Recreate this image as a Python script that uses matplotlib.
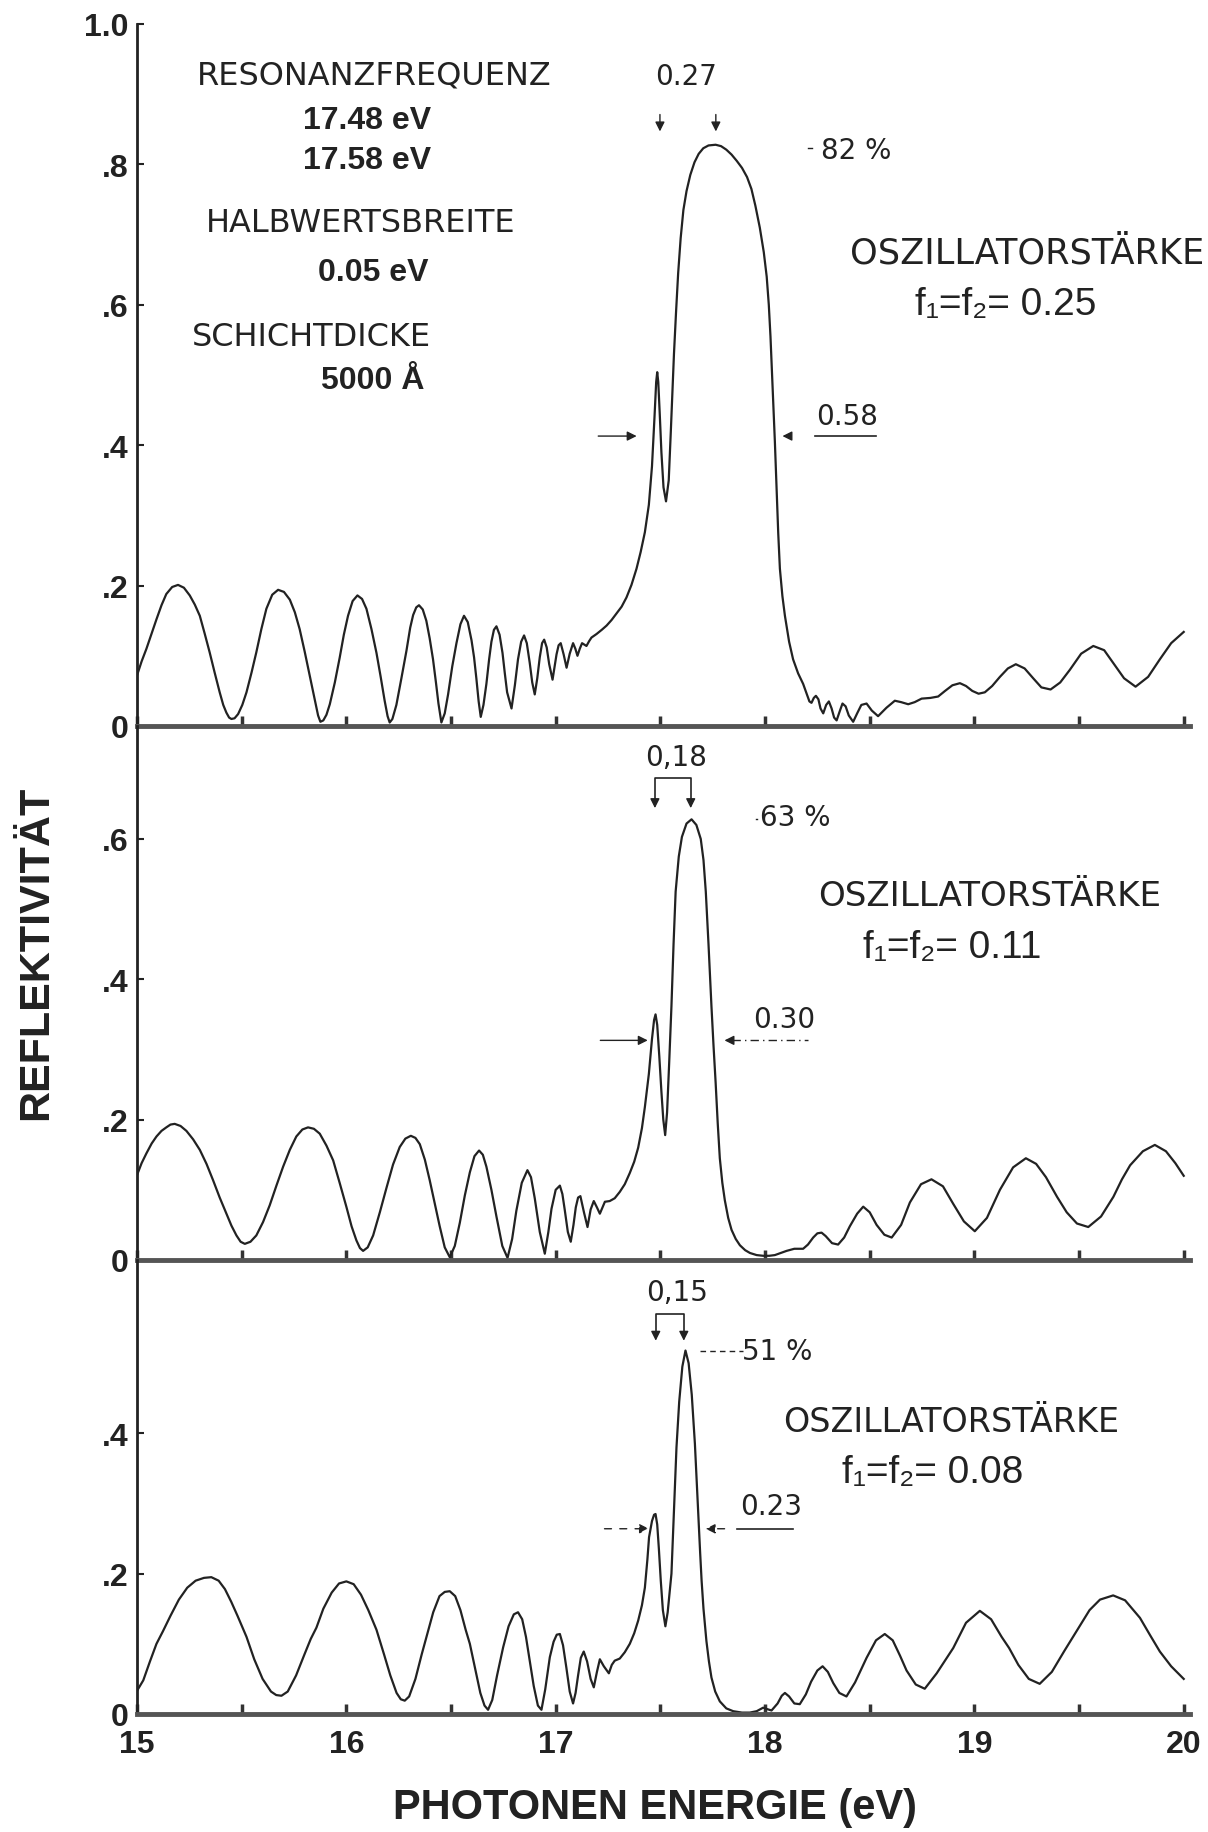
import matplotlib
matplotlib.use('Agg')
import matplotlib.pyplot as plt

# reflectivity curves (photon energy in eV, reflectivity)
topE = [15.000, 15.022, 15.045, 15.070, 15.093, 15.117, 15.140, 15.168, 15.196, 15.224,
        15.252, 15.276, 15.300, 15.323, 15.347, 15.371, 15.395, 15.412, 15.427, 15.440,
        15.451, 15.466, 15.483, 15.503, 15.523, 15.547, 15.570, 15.594, 15.618, 15.646,
        15.674, 15.702, 15.730, 15.754, 15.777, 15.801, 15.825, 15.850, 15.865, 15.876,
        15.890, 15.905, 15.921, 15.945, 15.968, 15.988, 16.008, 16.030, 16.053, 16.075,
        16.096, 16.120, 16.144, 16.164, 16.183, 16.197, 16.207, 16.220, 16.239, 16.263,
        16.287, 16.305, 16.319, 16.334, 16.347, 16.365, 16.382, 16.398, 16.414, 16.428,
        16.440, 16.454, 16.470, 16.486, 16.506, 16.526, 16.545, 16.562, 16.580, 16.598,
        16.610, 16.621, 16.632, 16.642, 16.655, 16.669, 16.682, 16.693, 16.705, 16.717,
        16.732, 16.746, 16.757, 16.768, 16.789, 16.805, 16.820, 16.835, 16.849, 16.862,
        16.876, 16.888, 16.900, 16.912, 16.924, 16.935, 16.945, 16.957, 16.969, 16.985,
        16.995, 17.004, 17.014, 17.024, 17.038, 17.052, 17.067, 17.083, 17.094, 17.104,
        17.115, 17.126, 17.137, 17.147, 17.160, 17.171, 17.195, 17.220, 17.243, 17.267,
        17.290, 17.315, 17.338, 17.362, 17.386, 17.406, 17.426, 17.445, 17.460, 17.472,
        17.480, 17.485, 17.490, 17.497, 17.505, 17.515, 17.527, 17.540, 17.550, 17.558,
        17.565, 17.575, 17.585, 17.597, 17.610, 17.625, 17.643, 17.663, 17.683, 17.705,
        17.730, 17.764, 17.790, 17.815, 17.840, 17.865, 17.890, 17.914, 17.935, 17.954,
        17.975, 17.994, 18.008, 18.018, 18.026, 18.033, 18.040, 18.047, 18.055, 18.063,
        18.071, 18.083, 18.095, 18.115, 18.134, 18.158, 18.182, 18.200, 18.212, 18.222,
        18.233, 18.243, 18.255, 18.265, 18.278, 18.292, 18.305, 18.318, 18.330, 18.342,
        18.358, 18.370, 18.385, 18.400, 18.421, 18.440, 18.460, 18.485, 18.510, 18.540,
        18.580, 18.620, 18.650, 18.684, 18.715, 18.748, 18.790, 18.827, 18.860, 18.895,
        18.931, 18.960, 18.990, 19.020, 19.050, 19.085, 19.122, 19.160, 19.198, 19.240,
        19.281, 19.320, 19.364, 19.410, 19.456, 19.510, 19.568, 19.620, 19.663, 19.715,
        19.770, 19.830, 19.886, 19.940, 20.000]
topR = [0.072, 0.092, 0.110, 0.132, 0.152, 0.172, 0.188, 0.198, 0.201, 0.197,
        0.186, 0.173, 0.157, 0.132, 0.105, 0.076, 0.048, 0.030, 0.019, 0.012,
        0.010, 0.011, 0.017, 0.030, 0.048, 0.076, 0.105, 0.138, 0.167, 0.187,
        0.194, 0.191, 0.180, 0.162, 0.138, 0.106, 0.072, 0.036, 0.015, 0.006,
        0.008, 0.016, 0.031, 0.062, 0.097, 0.130, 0.157, 0.178, 0.186, 0.181,
        0.167, 0.138, 0.104, 0.070, 0.036, 0.014, 0.005, 0.010, 0.030, 0.068,
        0.107, 0.140, 0.158, 0.169, 0.172, 0.166, 0.150, 0.125, 0.095, 0.062,
        0.032, 0.005, 0.018, 0.045, 0.085, 0.118, 0.145, 0.157, 0.148, 0.122,
        0.098, 0.068, 0.035, 0.013, 0.030, 0.060, 0.095, 0.120, 0.137, 0.142,
        0.130, 0.104, 0.075, 0.048, 0.025, 0.058, 0.095, 0.120, 0.129, 0.118,
        0.090, 0.062, 0.045, 0.068, 0.098, 0.118, 0.123, 0.112, 0.088, 0.066,
        0.085, 0.102, 0.115, 0.118, 0.102, 0.083, 0.103, 0.118, 0.110, 0.100,
        0.110, 0.118, 0.116, 0.114, 0.121, 0.126, 0.131, 0.137, 0.143, 0.151,
        0.160, 0.170, 0.183, 0.201, 0.224, 0.248, 0.276, 0.315, 0.370, 0.440,
        0.490, 0.504, 0.490, 0.445, 0.390, 0.340, 0.320, 0.350, 0.420, 0.480,
        0.530, 0.590, 0.645, 0.695, 0.735, 0.762, 0.785, 0.803, 0.815, 0.823,
        0.827, 0.828, 0.826, 0.821, 0.814, 0.805, 0.795, 0.782, 0.765, 0.741,
        0.710, 0.675, 0.640, 0.600, 0.555, 0.505, 0.455, 0.405, 0.340, 0.275,
        0.224, 0.185, 0.157, 0.120, 0.095, 0.075, 0.060, 0.045, 0.035, 0.033,
        0.040, 0.043, 0.038, 0.025, 0.018, 0.030, 0.035, 0.025, 0.012, 0.008,
        0.022, 0.032, 0.028, 0.015, 0.006, 0.018, 0.030, 0.032, 0.022, 0.014,
        0.026, 0.036, 0.034, 0.031, 0.034, 0.039, 0.040, 0.042, 0.050, 0.058,
        0.061, 0.057, 0.050, 0.046, 0.048, 0.057, 0.070, 0.082, 0.088, 0.082,
        0.068, 0.055, 0.052, 0.062, 0.080, 0.103, 0.114, 0.108, 0.090, 0.068,
        0.056, 0.070, 0.095, 0.118, 0.134]

midE = [15.000, 15.022, 15.045, 15.070, 15.093, 15.117, 15.140, 15.160, 15.180, 15.208,
        15.236, 15.268, 15.300, 15.332, 15.363, 15.395, 15.427, 15.451, 15.475, 15.495,
        15.515, 15.542, 15.570, 15.602, 15.634, 15.666, 15.698, 15.730, 15.761, 15.790,
        15.817, 15.845, 15.873, 15.905, 15.937, 15.968, 16.000, 16.025, 16.048, 16.065,
        16.080, 16.102, 16.128, 16.160, 16.191, 16.223, 16.255, 16.282, 16.308, 16.330,
        16.351, 16.375, 16.398, 16.422, 16.446, 16.470, 16.494, 16.518, 16.542, 16.566,
        16.590, 16.612, 16.634, 16.652, 16.669, 16.693, 16.717, 16.745, 16.770, 16.792,
        16.812, 16.838, 16.865, 16.882, 16.900, 16.924, 16.948, 16.965, 16.980, 17.000,
        17.020, 17.032, 17.043, 17.058, 17.072, 17.085, 17.096, 17.107, 17.118, 17.135,
        17.152, 17.167, 17.182, 17.197, 17.211, 17.235, 17.258, 17.282, 17.306, 17.330,
        17.354, 17.375, 17.394, 17.412, 17.426, 17.445, 17.460, 17.470, 17.477, 17.485,
        17.495, 17.505, 17.514, 17.523, 17.532, 17.542, 17.553, 17.563, 17.573, 17.588,
        17.603, 17.625, 17.649, 17.672, 17.693, 17.706, 17.717, 17.730, 17.744, 17.754,
        17.764, 17.774, 17.784, 17.796, 17.808, 17.824, 17.840, 17.860, 17.880, 17.905,
        17.928, 17.960, 17.991, 18.020, 18.047, 18.075, 18.103, 18.140, 18.182, 18.205,
        18.230, 18.250, 18.270, 18.290, 18.320, 18.349, 18.378, 18.405, 18.440, 18.469,
        18.500, 18.533, 18.570, 18.605, 18.650, 18.692, 18.745, 18.795, 18.850, 18.899,
        18.950, 19.002, 19.060, 19.122, 19.185, 19.246, 19.295, 19.342, 19.395, 19.441,
        19.490, 19.544, 19.605, 19.664, 19.705, 19.744, 19.805, 19.862, 19.915, 19.960,
        20.000]
midR = [0.121, 0.138, 0.152, 0.166, 0.176, 0.184, 0.189, 0.193, 0.194, 0.191,
        0.184, 0.172, 0.157, 0.137, 0.114, 0.089, 0.066, 0.049, 0.035, 0.026,
        0.023, 0.026, 0.035, 0.054, 0.078, 0.106, 0.133, 0.157, 0.176, 0.186,
        0.189, 0.187, 0.180, 0.163, 0.142, 0.110, 0.076, 0.048, 0.028, 0.017,
        0.013, 0.018, 0.035, 0.068, 0.102, 0.136, 0.161, 0.173, 0.177, 0.174,
        0.165, 0.143, 0.114, 0.081, 0.048, 0.018, 0.004, 0.020, 0.053, 0.092,
        0.125, 0.148, 0.156, 0.150, 0.133, 0.100, 0.062, 0.020, 0.003, 0.030,
        0.070, 0.110, 0.128, 0.118, 0.088, 0.040, 0.009, 0.040, 0.073, 0.100,
        0.106, 0.094, 0.072, 0.040, 0.026, 0.050, 0.075, 0.089, 0.091, 0.068,
        0.047, 0.072, 0.084, 0.075, 0.066, 0.083, 0.084, 0.088, 0.097, 0.108,
        0.124, 0.140, 0.160, 0.188, 0.218, 0.265, 0.315, 0.342, 0.350, 0.335,
        0.290, 0.240, 0.200, 0.178, 0.210, 0.280, 0.362, 0.450, 0.525, 0.575,
        0.603, 0.622, 0.628, 0.620, 0.600, 0.570, 0.525, 0.450, 0.362, 0.305,
        0.253, 0.195, 0.145, 0.110, 0.085, 0.060, 0.043, 0.030, 0.021, 0.014,
        0.010, 0.007, 0.006, 0.006, 0.007, 0.010, 0.013, 0.016, 0.016, 0.022,
        0.032, 0.038, 0.039, 0.034, 0.024, 0.022, 0.032, 0.048, 0.066, 0.076,
        0.068, 0.050, 0.036, 0.032, 0.050, 0.082, 0.108, 0.115, 0.105, 0.080,
        0.055, 0.041, 0.060, 0.100, 0.132, 0.145, 0.137, 0.118, 0.090, 0.068,
        0.052, 0.047, 0.062, 0.090, 0.115, 0.135, 0.155, 0.164, 0.155, 0.138,
        0.120]

botE = [15.000, 15.030, 15.062, 15.093, 15.124, 15.160, 15.200, 15.240, 15.280, 15.320,
        15.355, 15.390, 15.420, 15.450, 15.480, 15.523, 15.560, 15.600, 15.640, 15.665,
        15.690, 15.720, 15.760, 15.800, 15.830, 15.857, 15.890, 15.930, 15.965, 16.000,
        16.035, 16.070, 16.105, 16.144, 16.180, 16.210, 16.240, 16.260, 16.279, 16.300,
        16.330, 16.360, 16.383, 16.415, 16.445, 16.470, 16.494, 16.520, 16.545, 16.570,
        16.590, 16.615, 16.640, 16.660, 16.677, 16.697, 16.720, 16.749, 16.775, 16.800,
        16.820, 16.840, 16.858, 16.876, 16.895, 16.915, 16.932, 16.950, 16.972, 16.990,
        17.005, 17.020, 17.035, 17.051, 17.067, 17.083, 17.095, 17.107, 17.120, 17.134,
        17.150, 17.167, 17.182, 17.197, 17.211, 17.230, 17.254, 17.268, 17.282, 17.306,
        17.330, 17.354, 17.375, 17.394, 17.412, 17.426, 17.438, 17.446, 17.460, 17.470,
        17.477, 17.485, 17.493, 17.502, 17.512, 17.524, 17.535, 17.545, 17.553, 17.565,
        17.577, 17.590, 17.605, 17.620, 17.635, 17.650, 17.665, 17.680, 17.690, 17.697,
        17.706, 17.720, 17.732, 17.744, 17.762, 17.784, 17.815, 17.848, 17.890, 17.927,
        17.960, 17.991, 18.010, 18.031, 18.060, 18.080, 18.095, 18.115, 18.140, 18.166,
        18.195, 18.220, 18.250, 18.275, 18.300, 18.326, 18.355, 18.389, 18.430, 18.485,
        18.530, 18.572, 18.610, 18.645, 18.676, 18.720, 18.763, 18.820, 18.899, 18.960,
        19.026, 19.080, 19.130, 19.166, 19.210, 19.260, 19.312, 19.370, 19.430, 19.488,
        19.550, 19.600, 19.663, 19.720, 19.791, 19.840, 19.886, 19.940, 20.000]
botR = [0.033, 0.048, 0.075, 0.100, 0.118, 0.140, 0.163, 0.180, 0.190, 0.194,
        0.195, 0.190, 0.178, 0.160, 0.140, 0.110, 0.078, 0.050, 0.032, 0.027,
        0.026, 0.032, 0.055, 0.085, 0.107, 0.123, 0.150, 0.173, 0.186, 0.189,
        0.185, 0.170, 0.148, 0.120, 0.085, 0.055, 0.030, 0.021, 0.019, 0.025,
        0.050, 0.085, 0.110, 0.145, 0.168, 0.174, 0.175, 0.168, 0.148, 0.120,
        0.100, 0.065, 0.030, 0.012, 0.006, 0.020, 0.055, 0.095, 0.125, 0.142,
        0.145, 0.135, 0.110, 0.076, 0.040, 0.012, 0.006, 0.035, 0.081, 0.103,
        0.113, 0.114, 0.098, 0.066, 0.032, 0.015, 0.030, 0.055, 0.080, 0.089,
        0.075, 0.050, 0.038, 0.060, 0.078, 0.068, 0.058, 0.070, 0.076, 0.079,
        0.088, 0.100, 0.115, 0.133, 0.155, 0.180, 0.220, 0.252, 0.275, 0.284,
        0.285, 0.270, 0.235, 0.190, 0.148, 0.125, 0.145, 0.175, 0.200, 0.290,
        0.380, 0.445, 0.495, 0.518, 0.500, 0.455, 0.385, 0.290, 0.230, 0.190,
        0.150, 0.104, 0.075, 0.052, 0.032, 0.018, 0.008, 0.004, 0.002, 0.002,
        0.004, 0.009, 0.007, 0.005, 0.015, 0.026, 0.030, 0.025, 0.015, 0.014,
        0.028, 0.046, 0.062, 0.068, 0.060, 0.044, 0.030, 0.025, 0.045, 0.080,
        0.105, 0.114, 0.105, 0.083, 0.062, 0.042, 0.036, 0.058, 0.094, 0.130,
        0.147, 0.135, 0.110, 0.094, 0.070, 0.050, 0.043, 0.060, 0.090, 0.118,
        0.148, 0.163, 0.169, 0.162, 0.137, 0.112, 0.089, 0.068, 0.050]

yticks_top = [0, 0.2, 0.4, 0.6, 0.8, 1.0]
ylabels_top = ['0', '.2', '.4', '.6', '.8', '1.0']
yticks_mid = [0, 0.2, 0.4, 0.6]
ylabels_mid = ['0', '.2', '.4', '.6']
yticks_bot = [0, 0.2, 0.4]
ylabels_bot = ['0', '.2', '.4']
xticks = [15, 15.5, 16, 16.5, 17, 17.5, 18, 18.5, 19, 19.5, 20]
xlabels = ['15', '', '16', '', '17', '', '18', '', '19', '', '20']

W, H = 1208, 1833
narrow = ['Liberation Sans', 'DejaVu Sans']
plain = ['DejaVu Sans']
ink = '#222222'


def fx(px):
    return px / W


def fy(py):
    return 1 - py / H


fig = plt.figure(figsize=(W / 100, H / 100), dpi=100)

x0, x1 = 137, 1190
# (top pixel, bottom pixel, ymax) for each panel
panels = [(25, 727, 1.0), (727, 1261, 0.761), (1261, 1715, 0.647)]
axes = []
for top, bot, ymax in panels:
    ax = fig.add_axes([fx(x0), fy(bot), (x1 - x0) / W, (bot - top) / H])
    ax.set_xlim(15, 20.03)
    ax.set_ylim(0, ymax)
    ax.patch.set_alpha(0)
    for s in ['top', 'right']:
        ax.spines[s].set_visible(False)
    ax.spines['left'].set_linewidth(2)
    ax.spines['left'].set_color(ink)
    ax.spines['bottom'].set_linewidth(3.5)
    ax.spines['bottom'].set_color('#555555')
    ax.set_xticks(xticks)
    ax.tick_params(axis='x', direction='in', length=7, width=2.5, color='#333333',
                   labelbottom=False)
    ax.tick_params(axis='y', direction='in', length=5, width=1.5, color=ink, pad=6)
    axes.append(ax)

axT, axM, axB = axes
axT.set_yticks(yticks_top, ylabels_top)
axM.set_yticks(yticks_mid, ylabels_mid)
axB.set_yticks(yticks_bot, ylabels_bot)
axB.set_xticks(xticks, xlabels)
axB.tick_params(axis='x', labelbottom=True, pad=11)
for ax in axes:
    for lab in ax.get_yticklabels() + ax.get_xticklabels():
        lab.set_family(narrow)
        lab.set_fontweight('bold')
        lab.set_fontsize(23)
        lab.set_color(ink)

axT.plot(topE, topR, color=ink, lw=1.6)
axM.plot(midE, midR, color=ink, lw=1.6)
axB.plot(botE, botR, color=ink, lw=1.6)

# axis titles
fig.text(fx(36), fy(953), 'REFLEKTIVITÄT', rotation=90, ha='center', va='center',
         family=narrow, fontweight='bold', fontsize=31, color=ink)
fig.text(fx(655), fy(1808), 'PHOTONEN ENERGIE (eV)', ha='center', va='center',
         family=narrow, fontweight='bold', fontsize=30, color=ink)

# parameter block, top panel
words = [('RESONANZFREQUENZ', 374, 76), ('HALBWERTSBREITE', 361, 223),
         ('SCHICHTDICKE', 311, 338)]
for s, x, y in words:
    fig.text(fx(x), fy(y), s, ha='center', va='center', family=plain, fontsize=23,
             color=ink)
values = [('17.48 eV', 367, 121), ('17.58 eV', 367, 161), ('0.05 eV', 373, 273),
          ('5000 Å', 373, 381)]
for s, x, y in values:
    fig.text(fx(x), fy(y), s, ha='center', va='center', family=narrow,
             fontweight='bold', fontsize=23, color=ink)

# oscillator strength labels
osz = [(1027, 253, 25.3, 'f₁=f₂= 0.25', 1006, 305),
       (990, 897, 24.6, 'f₁=f₂= 0.11', 952, 948),
       (951, 1423, 24, 'f₁=f₂= 0.08', 933, 1473)]
for x, y, fs, f, xf, yf in osz:
    fig.text(fx(x), fy(y), 'OSZILLATORSTÄRKE', ha='center', va='center', family=plain,
             fontsize=fs, color=ink)
    fig.text(fx(xf), fy(yf), f, ha='center', va='center', family=narrow,
             fontsize=28, color=ink)

small = [('0.27', 686, 77), ('82 %', 856, 151), ('0.58', 847, 417),
         ('0,18', 676, 758), ('63 %', 795, 818), ('0.30', 784, 1020),
         ('0,15', 677, 1293), ('51 %', 777, 1352), ('0.23', 771, 1507)]
for s, x, y in small:
    fig.text(fx(x), fy(y), s, ha='center', va='center', family=plain, fontsize=20,
             color=ink)

head = dict(arrowstyle='-|>', color=ink, lw=1.0, mutation_scale=14)

# peak separation markers
for e in [17.498, 17.765]:
    axT.annotate('', xy=(e, 0.843), xytext=(e, 0.875), arrowprops=head)
axT.plot([18.205, 18.225], [0.824, 0.824], color=ink, lw=1)

axM.plot([17.474, 17.474, 17.645, 17.645], [0.655, 0.687, 0.687, 0.655], color=ink, lw=1.2)
for e in [17.474, 17.645]:
    axM.annotate('', xy=(e, 0.640), xytext=(e, 0.66), arrowprops=head)
axM.plot([17.955, 17.96], [0.628, 0.628], color=ink, lw=1)

axB.plot([17.478, 17.478, 17.612, 17.612], [0.545, 0.570, 0.570, 0.545], color=ink, lw=1.2)
for e in [17.478, 17.612]:
    axB.annotate('', xy=(e, 0.528), xytext=(e, 0.548), arrowprops=head)
axB.plot([17.688, 17.894], [0.517, 0.517], color=ink, lw=1, ls=(0, (4, 3)))

# half-width markers
axT.annotate('', xy=(17.40, 0.413), xytext=(17.19, 0.413), arrowprops=head)
axT.annotate('', xy=(18.07, 0.413), xytext=(18.12, 0.413), arrowprops=head)
axT.plot([18.24, 18.53], [0.413, 0.413], color=ink, lw=1.2)

axM.annotate('', xy=(17.453, 0.313), xytext=(17.20, 0.313), arrowprops=head)
axM.annotate('', xy=(17.793, 0.313), xytext=(17.84, 0.313), arrowprops=head)
axM.plot([17.84, 18.205], [0.313, 0.313], color=ink, lw=1, ls=(0, (6, 3, 1, 3)))

axB.annotate('', xy=(17.459, 0.264), xytext=(17.22, 0.264),
             arrowprops=dict(head, linestyle=(0, (5, 6))))
axB.annotate('', xy=(17.703, 0.264), xytext=(17.82, 0.264),
             arrowprops=dict(head, linestyle=(0, (5, 4))))
axB.plot([17.864, 18.133], [0.264, 0.264], color=ink, lw=1.2)

fig.savefig('out.png', dpi=100)
